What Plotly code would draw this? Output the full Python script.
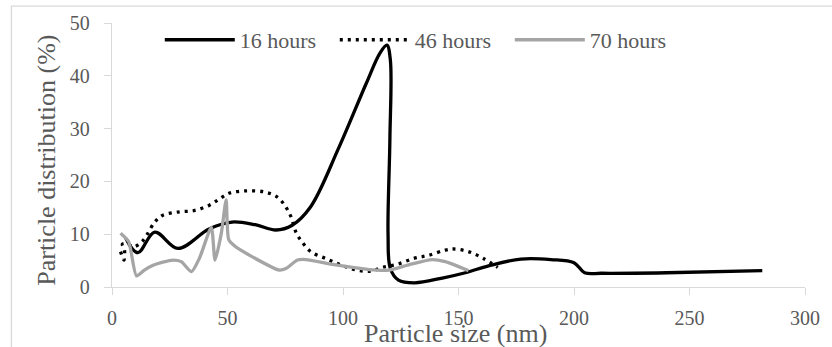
import plotly.graph_objects as go

# ---- data ----
x16 = [6, 11.2, 18.5, 28.5, 42, 52, 62, 71, 78, 86, 98, 110, 116, 119, 120.5, 120.3, 119.5, 120.5, 124, 131, 143, 153, 163, 177, 190, 200, 204.6, 212, 240, 281.5]
y16 = [9.2, 6.5, 10.4, 7.3, 11.0, 12.3, 11.8, 10.8, 11.7, 15.2, 26.2, 38.5, 44.3, 45.8, 43, 28, 10, 3.5, 1.3, 0.8, 1.7, 2.7, 4.0, 5.3, 5.2, 4.6, 2.7, 2.6, 2.7, 3.1]

x46 = [3.7, 5.2, 5.4, 4.5, 6.5, 9.2, 12.8, 15, 18.5, 22, 28.6, 35.8, 42.2, 46.6, 50.9, 58, 66, 71.7, 75, 77.5, 79.6, 82, 86, 92.5, 99, 106, 112, 117, 123.4, 130.6, 137, 144.3, 148, 154.3, 160.8, 167]
y46 = [6.7, 5.1, 7.0, 8.1, 8.2, 7.6, 8.5, 9.8, 12.3, 13.6, 14.2, 14.5, 15.5, 16.7, 17.8, 18.2, 18.0, 17.0, 15.3, 13.3, 10.4, 8.7, 6.7, 5.4, 4.2, 3.2, 3.0, 3.7, 4.3, 5.4, 6.0, 7.0, 7.2, 6.7, 5.4, 3.7]

x70 = [3.7, 7.2, 10.6, 14, 17.8, 22, 26.4, 30, 34.4, 37.9, 43, 44.6, 47.3, 49.4, 50.5, 53, 60.8, 72.4, 75.3, 80.3, 84, 94, 102.6, 111.2, 119.8, 128.4, 138.5, 144.3, 154.3]
y70 = [10.2, 8.6, 2.1, 3.2, 4.1, 4.7, 5.1, 4.8, 2.9, 5.5, 11.3, 5.1, 10.1, 16.5, 9.0, 7.8, 5.7, 3.2, 3.5, 5.1, 5.2, 4.4, 3.8, 3.3, 3.2, 4.2, 5.2, 4.8, 3.1]

series_names = ["16 hours", "46 hours", "70 hours"]

x_ticks = [0, 50, 100, 150, 200, 250, 300]
y_ticks = [0, 10, 20, 30, 40, 50]

FONT = "Times New Roman"
TXT = "#595959"
AX = "#d9d9d9"

fig = go.Figure()
fig.add_trace(go.Scatter(x=x16, y=y16, mode="lines", name=series_names[0],
                         line=dict(color="#000000", width=3.3, shape="spline", smoothing=1.0)))
fig.add_trace(go.Scatter(x=x46, y=y46, mode="lines", name=series_names[1],
                         line=dict(color="#000000", width=3.3, dash="3px,5px", shape="spline", smoothing=1.0)))
fig.add_trace(go.Scatter(x=x70, y=y70, mode="lines", name=series_names[2],
                         line=dict(color="#a5a5a5", width=3.3, shape="spline", smoothing=0.6)))

fig.update_layout(
    width=832, height=347,
    margin=dict(l=112, r=24, t=22, b=60),
    paper_bgcolor="white", plot_bgcolor="white",
    showlegend=True,
    legend=dict(orientation="h", x=(160 - 112) / 696, y=(287 - 39) / 265, xanchor="left", yanchor="middle",
                font=dict(family=FONT, size=22, color=TXT), itemwidth=70, entrywidth=90,
                bgcolor="rgba(0,0,0,0)", tracegroupgap=0),
    xaxis=dict(range=[0, 300], tickvals=x_ticks, showgrid=False, zeroline=False,
               showline=True, linecolor=AX, linewidth=1.3, ticks="outside", ticklen=7, tickcolor=AX,
               tickfont=dict(family=FONT, size=20, color=TXT), ticklabelstandoff=6),
    yaxis=dict(range=[0, 50], tickvals=y_ticks, showgrid=False, zeroline=False,
               showline=True, linecolor=AX, linewidth=1.3, ticks="outside", ticklen=7, tickcolor=AX,
               tickfont=dict(family=FONT, size=20, color=TXT), ticklabelstandoff=10),
    annotations=[
        dict(text="Particle size (nm)", xref="paper", yref="paper", x=(457 - 112) / 696, y=(287 - 334) / 265,
             xanchor="center", yanchor="middle", showarrow=False, font=dict(family=FONT, size=26, color=TXT)),
        dict(text="Particle distribution (%)", xref="paper", yref="paper", x=(46 - 112) / 696, y=(287 - 160) / 265,
             xanchor="center", yanchor="middle", textangle=-90, showarrow=False,
             font=dict(family=FONT, size=26, color=TXT)),
    ],
    shapes=[dict(type="rect", xref="paper", yref="paper", x0=(11 - 112) / 696, x1=(845 - 112) / 696,
                 y0=(287 - 360) / 265, y1=(287 - 5) / 265, line=dict(color=AX, width=1.3), layer="below")],
)

fig.write_html("out.html")
